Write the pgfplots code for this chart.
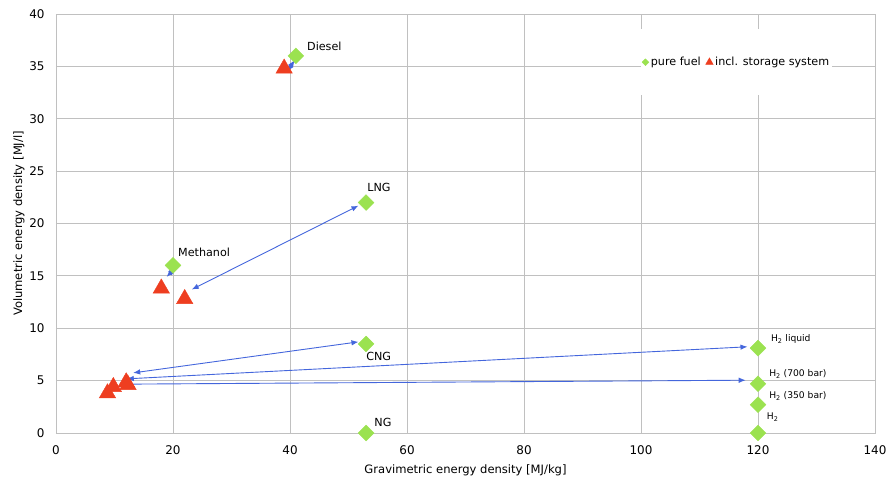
\documentclass[border=0pt]{standalone}
\usepackage{fontspec}
\setmainfont{DejaVu Sans}
\usepackage{pgfplots}
\pgfplotsset{compat=1.18}
\usetikzlibrary{arrows.meta}
\definecolor{fuelgreen}{RGB}{155,226,80}
\definecolor{storred}{RGB}{238,62,32}
\definecolor{arrblue}{RGB}{68,102,220}
\definecolor{gridgray}{RGB}{192,192,192}
\begin{document}
\begin{tikzpicture}[x=1bp,y=1bp]
\useasboundingbox (-56,-48) rectangle (831,433);
\begin{axis}[
  at={(0,0)}, anchor=south west,
  scale only axis, width=819bp, height=419bp,
  xmin=0, xmax=140, ymin=0, ymax=40,
  xtick={0,20,...,140}, ytick={0,5,...,40},
  grid=major,
  major grid style={gridgray, line width=0.8bp},
  axis line style={gridgray, line width=0.8bp},
  major tick length=0pt,
  tick label style={font=\fontsize{12}{14}\selectfont},
  /pgf/number format/assume math mode=true,
  xticklabel style={yshift=-9bp},
  yticklabel style={xshift=-8bp},
  xlabel={Gravimetric energy density [MJ/kg]},
  ylabel={Volumetric energy density [MJ/l]},
  label style={font=\fontsize{11.6}{13}\selectfont},
  xlabel style={yshift=-3bp},
  ylabel style={yshift=-2bp},
  clip=false,
  legend columns=2,
  legend style={at={(rel axis cs:0.831,0.885)}, anchor=center, draw=none, fill=white,
    font=\fontsize{11.2}{13}\selectfont, inner xsep=1bp, inner ysep=26bp,
    /tikz/every even column/.append style={column sep=3bp}},
  legend cell align=left,
]
% pure fuel
\addplot[only marks, mark=square*, mark size=5.6bp, mark options={rotate=45, fill=fuelgreen, draw=fuelgreen}, forget plot] coordinates {
 (41,36) (53,22) (20,16) (53,8.5) (53,0) (120,8.1) (120,4.7) (120,2.7) (120,0)};
% incl storage
\addplot[only marks, mark=triangle*, mark size=9.5bp, mark options={fill=storred, draw=storred}, forget plot] coordinates {
 (39,34.8) (18,13.8) (22,12.8) (8.8,3.8) (9.8,4.4) (12,4.85) (12.3,4.6)};
% arrows
\pgfplotsset{myarrow/.style={arrblue, line width=0.9bp, {Latex[length=7bp,width=5.5bp]}-{Latex[length=7bp,width=5.5bp]}, forget plot}}
\addplot[myarrow] coordinates {(40.8,35.6) (39.5,34.5)};
\addplot[myarrow] coordinates {(20.3,15.7) (18.9,14.9)};
\addplot[myarrow] coordinates {(23.2,13.7) (51.7,21.7)};
\addplot[myarrow] coordinates {(13.2,5.74) (51.7,8.7)};
\addplot[myarrow] coordinates {(12.1,5.17) (118.2,8.23)};
\addplot[myarrow] coordinates {(11.06,4.66) (117.9,5.04)};
\addlegendimage{only marks, mark=square*, mark size=2.4bp, mark options={rotate=45, fill=fuelgreen, draw=fuelgreen}}
\addlegendentry{pure fuel}
\addlegendimage{only marks, mark=triangle*, mark size=4.3bp, mark options={fill=storred, draw=storred}}
\addlegendentry{incl. storage system}
% labels
\begin{scope}[every node/.style={anchor=west, inner sep=0pt, font=\fontsize{11.2}{13}\selectfont}]
\node at (axis cs:42.9,36.9) {Diesel};
\node at (axis cs:53.2,23.4) {LNG};
\node at (axis cs:20.85,17.2) {Methanol};
\node at (axis cs:53.0,7.34) {CNG};
\node at (axis cs:54.4,1.03) {NG};
\end{scope}
\begin{scope}[every node/.style={anchor=west, inner sep=0pt, font=\fontsize{9.2}{11}\selectfont}]
\node at (axis cs:122.2,8.97) {H\textsubscript{2} liquid};
\node at (axis cs:121.9,5.6) {H\textsubscript{2} (700 bar)};
\node at (axis cs:121.9,3.5) {H\textsubscript{2} (350 bar)};
\node at (axis cs:121.5,1.5) {H\textsubscript{2}};
\end{scope}
\end{axis}
\end{tikzpicture}
\end{document}
